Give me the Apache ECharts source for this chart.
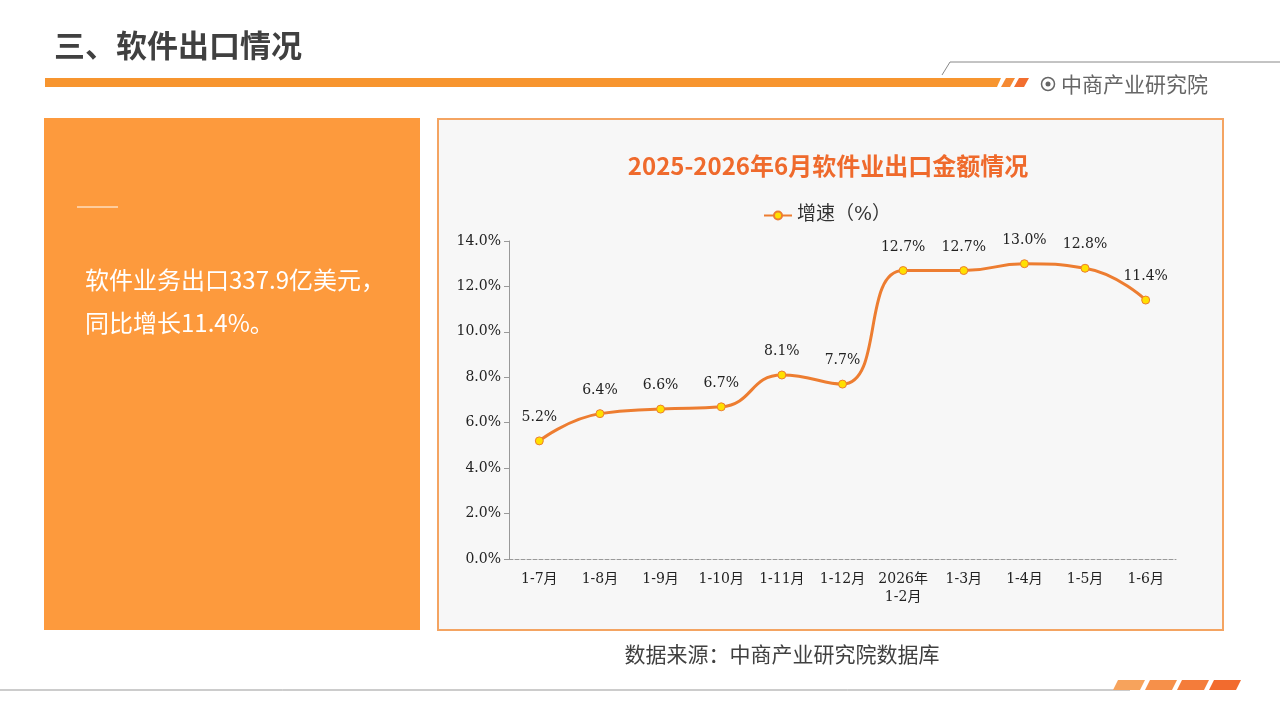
<!DOCTYPE html>
<html><head><meta charset="utf-8">
<script src="https://cdn.jsdelivr.net/npm/echarts/dist/echarts.min.js"></script>
<style>html,body{margin:0;padding:0;background:#fff}#c{width:1280px;height:720px}</style>
</head><body><div id="c"></div>
<script>
const categories = ['1-7月','1-8月','1-9月','1-10月','1-11月','1-12月','2026年\n1-2月','1-3月','1-4月','1-5月','1-6月'];
const growth = [5.2, 6.4, 6.6, 6.7, 8.1, 7.7, 12.7, 12.7, 13.0, 12.8, 11.4];
const seriesName = '增速（%）';
const pageTitle = '三、软件出口情况';
const chartTitle = '2025-2026年6月软件业出口金额情况';
const summaryLines = ['软件业务出口337.9亿美元，', '同比增长11.4%。'];
const sourceText = '数据来源：中商产业研究院数据库';
const brandText = '中商产业研究院';

const serif = "'DejaVu Serif','Noto Sans CJK SC',serif";
const sans = "'Noto Sans CJK SC','Noto Sans',sans-serif";

const chart = echarts.init(document.getElementById('c'));
chart.setOption({
  animation: false,
  backgroundColor: '#ffffff',
  graphic: [
    // page title
    { type: 'text', z: 1, x: 54, y: 45, style: { text: pageTitle, font: 'bold 31px ' + sans, fill: '#404040', textVerticalAlign: 'middle' } },
    // top orange bar
    { type: 'polygon', z: 1, shape: { points: [[45,78],[1001,78],[997,87],[45,87]] }, style: { fill: '#F7952F' } },
    { type: 'polygon', z: 1, shape: { points: [[1006,78],[1015,78],[1010,87],[1001,87]] }, style: { fill: '#F58A33' } },
    { type: 'polygon', z: 1, shape: { points: [[1019,78],[1029,78],[1024,87],[1014,87]] }, style: { fill: '#F26E2F' } },
    // gray thin line
    { type: 'polyline', z: 1, shape: { points: [[942,75],[950,62],[1280,62]] }, style: { stroke: '#888', lineWidth: 1, fill: null } },
    // brand
    { type: 'circle', z: 1, shape: { cx: 1048, cy: 84, r: 6.5 }, style: { fill: 'none', stroke: '#666', lineWidth: 1.5 } },
    { type: 'circle', z: 1, shape: { cx: 1048, cy: 84, r: 2.5 }, style: { fill: '#666' } },
    { type: 'text', z: 1, x: 1061, y: 84, style: { text: brandText, font: '21px ' + sans, fill: '#666', textVerticalAlign: 'middle' } },
    // left panel
    { type: 'rect', z: 1, shape: { x: 44, y: 118, width: 376, height: 512 }, style: { fill: '#FD9A3D' } },
    { type: 'line', z: 2, shape: { x1: 77, y1: 207, x2: 118, y2: 207 }, style: { stroke: '#fff', lineWidth: 1 } },
    { type: 'text', z: 2, x: 85, y: 280, style: { text: summaryLines[0], font: '24px ' + sans, fill: '#fff', textVerticalAlign: 'middle' } },
    { type: 'text', z: 2, x: 85, y: 323, style: { text: summaryLines[1], font: '24px ' + sans, fill: '#fff', textVerticalAlign: 'middle' } },
    // chart panel
    { type: 'rect', z: -10, shape: { x: 438, y: 119, width: 785, height: 511 }, style: { fill: '#F7F7F7', stroke: '#F4A462', lineWidth: 2 } },
    { type: 'text', z: 1, x: 828, y: 166, style: { text: chartTitle, font: 'bold 24px ' + sans, fill: '#EF6A2C', textAlign: 'center', textVerticalAlign: 'middle' } },
    // source
    { type: 'text', z: 1, x: 782, y: 657, style: { text: sourceText, font: '21px ' + serif, fill: '#404040', textAlign: 'center', textVerticalAlign: 'middle' } },
    // bottom line
    { type: 'line', z: 1, shape: { x1: 0, y1: 690, x2: 1130, y2: 690 }, style: { stroke: '#999', lineWidth: 1 } },
    { type: 'polygon', z: 1, shape: { points: [[1118,680],[1145,680],[1140,690],[1113,690]] }, style: { fill: '#F7A35C' } },
    { type: 'polygon', z: 1, shape: { points: [[1150,680],[1177,680],[1172,690],[1145,690]] }, style: { fill: '#F6904A' } },
    { type: 'polygon', z: 1, shape: { points: [[1182,680],[1209,680],[1204,690],[1177,690]] }, style: { fill: '#F47C3A' } },
    { type: 'polygon', z: 1, shape: { points: [[1214,680],[1241,680],[1236,690],[1209,690]] }, style: { fill: '#F26B2E' } }
  ],
  legend: {
    data: [seriesName],
    left: 758, top: 201,
    itemWidth: 28, itemHeight: 10, itemGap: 10,
    textStyle: { fontFamily: serif, fontSize: 19, color: '#333' }
  },
  grid: { left: 509, right: 104, top: 241, bottom: 161, containLabel: false },
  xAxis: {
    type: 'category',
    data: categories,
    axisLine: { lineStyle: { color: '#999', type: 'dashed', width: 1 } },
    axisTick: { inside: true, length: 5, lineStyle: { color: '#999' } },
    axisLabel: { fontFamily: serif, fontSize: 14, color: '#222', margin: 11, lineHeight: 18, interval: 0 }
  },
  yAxis: {
    type: 'value',
    min: 0, max: 14, interval: 2,
    axisLine: { show: true, lineStyle: { color: '#999' } },
    axisTick: { show: true, length: 5, lineStyle: { color: '#999' } },
    splitLine: { show: false },
    axisLabel: { fontFamily: serif, fontSize: 14, color: '#222', margin: 8, formatter: v => v.toFixed(1) + '%' }
  },
  series: [{
    name: seriesName,
    type: 'line',
    data: growth,
    smooth: 0.5,
    symbol: 'circle',
    symbolSize: 8,
    lineStyle: { color: '#ED7D31', width: 3 },
    itemStyle: { color: '#FFE000', borderColor: '#ED7D31', borderWidth: 1 },
    label: { show: true, position: 'top', distance: 12, fontFamily: serif, fontSize: 14, color: '#222', formatter: p => p.value.toFixed(1) + '%' }
  }]
});
</script></body></html>
